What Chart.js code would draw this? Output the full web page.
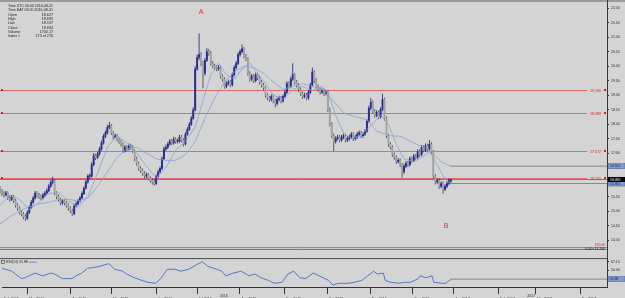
<!DOCTYPE html>
<html>
<head>
<meta charset="utf-8">
<script src="https://cdn.jsdelivr.net/npm/chart.js@4.4.1/dist/chart.umd.min.js"></script>
<style>
html,body{margin:0;padding:0;background:#d4d4d4;}
#wrap{position:relative;width:625px;height:298px;overflow:hidden;background:#d4d4d4;}
#strip{position:absolute;left:0;top:0;width:625px;height:2px;background:#9a9a9a;}
#axisline{position:absolute;left:607px;top:0;width:1px;height:288px;background:#3a3a3a;}
#main{position:absolute;left:0;top:0;}
#rsi{position:absolute;left:0;top:254px;}
</style>
</head>
<body>
<div id="wrap">
<div id="strip"></div>
<div id="axisline"></div>
<canvas id="main" width="625" height="254"></canvas>
<canvas id="rsi" width="625" height="44"></canvas>
</div>
<script>
// daily candles, bar index = position in array
const opens = [15.78,15.69,15.60,15.55,15.62,15.45,15.40,15.48,15.35,15.20,
 15.10,14.95,14.90,14.80,14.75,14.95,15.12,15.30,15.45,15.62,
 15.55,15.50,15.45,15.55,15.62,15.70,15.85,15.99,16.05,15.62,
 15.50,15.40,15.28,15.35,15.28,15.20,15.10,15.01,14.90,15.18,
 15.25,15.35,15.45,15.60,15.79,16.00,16.20,16.20,16.60,16.91,
 16.85,16.97,17.14,17.35,17.58,17.70,17.89,17.95,17.70,17.55,
 17.60,17.48,17.40,17.31,17.07,17.20,17.14,17.25,17.21,17.07,
 16.80,16.65,16.47,16.40,16.30,16.20,16.25,16.13,16.06,16.00,
 15.95,16.20,16.35,16.47,16.80,17.14,17.20,17.31,17.41,17.35,
 17.48,17.40,17.41,17.55,17.45,17.31,17.65,17.82,17.99,18.20,
 18.49,19.90,20.30,20.40,20.10,19.75,20.20,20.50,20.45,20.10,
 20.00,19.95,19.90,19.95,19.65,19.55,19.30,19.40,19.45,19.35,
 19.70,19.95,20.10,20.40,20.50,20.60,20.35,20.25,19.75,19.55,
 19.65,19.50,19.70,19.60,19.45,19.35,19.25,19.00,18.90,18.85,
 18.95,18.80,18.70,18.85,18.90,18.80,18.95,19.10,19.40,19.30,
 19.55,19.70,19.45,19.35,19.20,19.05,18.95,19.00,18.90,19.10,
 19.35,19.80,19.50,19.30,19.20,19.10,19.15,19.05,19.10,18.50,
 18.00,17.60,17.40,17.50,17.55,17.45,17.55,17.60,17.45,17.50,
 17.55,17.65,17.50,17.55,17.65,17.70,17.60,17.65,17.75,18.10,
 18.55,18.75,18.45,18.30,18.40,18.25,18.50,18.85,18.20,17.60,
 17.30,17.20,16.95,16.85,16.70,16.75,16.60,16.35,16.55,16.65,
 16.60,16.80,16.75,16.90,16.85,17.05,16.95,17.20,17.10,17.25,
 17.15,17.30,17.05,16.20,16.00,16.05,15.85,15.95,15.75,15.85,
 15.95,16.03];
const highs = [15.85,15.76,15.68,15.70,15.68,15.53,15.56,15.55,15.42,15.27,
 15.16,15.03,14.97,14.88,15.02,15.20,15.38,15.53,15.70,15.68,
 15.62,15.57,15.62,15.69,15.78,15.93,16.07,16.18,16.10,15.68,
 15.57,15.46,15.42,15.41,15.35,15.27,15.17,15.07,15.25,15.33,
 15.42,15.52,15.68,15.86,16.08,16.28,16.30,16.68,17.00,16.98,
 17.05,17.22,17.43,17.66,17.78,17.97,18.08,18.00,17.76,17.68,
 17.66,17.55,17.47,17.37,17.28,17.27,17.33,17.32,17.27,17.12,
 16.87,16.71,16.55,16.47,16.37,16.33,16.31,16.20,16.13,16.07,
 16.27,16.43,16.55,16.88,17.22,17.30,17.39,17.49,17.48,17.56,
 17.55,17.50,17.63,17.62,17.51,17.73,17.90,18.07,18.28,18.58,
 20.00,20.40,21.13,20.48,20.18,20.28,20.62,20.60,20.52,20.18,
 20.08,20.03,20.04,20.02,19.72,19.62,19.48,19.53,19.52,19.78,
 20.03,20.18,20.48,20.58,20.75,20.66,20.42,20.31,19.82,19.73,
 19.72,19.78,19.77,19.67,19.52,19.42,19.31,19.07,18.97,19.03,
 19.02,18.87,18.93,18.98,18.97,19.03,19.18,19.48,19.47,19.63,
 20.10,19.76,19.52,19.42,19.27,19.12,19.08,19.07,19.18,19.43,
 19.95,19.86,19.57,19.37,19.27,19.23,19.22,19.18,19.16,18.56,
 18.06,17.67,17.58,17.63,17.62,17.63,17.68,17.67,17.58,17.63,
 17.73,17.72,17.63,17.73,17.78,17.77,17.73,17.83,18.18,18.63,
 18.90,18.81,18.52,18.48,18.47,18.58,19.05,18.91,18.26,17.67,
 17.37,17.27,17.02,16.92,16.83,16.82,16.66,16.63,16.73,16.72,
 16.88,16.87,16.98,16.97,17.13,17.12,17.28,17.27,17.33,17.32,
 17.45,17.37,17.11,16.27,16.13,16.12,16.03,16.02,15.93,16.03,
 16.13,16.10];
const lows = [15.60,15.52,15.47,15.50,15.38,15.32,15.35,15.28,15.12,15.02,
 14.88,14.82,14.72,14.66,14.70,14.90,15.07,15.25,15.40,15.47,
 15.42,15.37,15.40,15.49,15.57,15.65,15.80,15.92,15.55,15.42,
 15.33,15.20,15.22,15.20,15.12,15.02,14.93,14.83,14.86,15.12,
 15.20,15.30,15.40,15.55,15.74,15.95,16.10,16.15,16.55,16.76,
 16.80,16.92,17.08,17.30,17.52,17.64,17.82,17.62,17.47,17.50,
 17.40,17.32,17.23,17.00,17.02,17.06,17.09,17.13,17.00,16.72,
 16.57,16.40,16.32,16.22,16.12,16.14,16.06,15.98,15.92,15.87,
 15.90,16.15,16.30,16.42,16.75,17.08,17.14,17.25,17.27,17.30,
 17.32,17.33,17.36,17.37,17.23,17.26,17.60,17.76,17.94,18.15,
 18.44,19.84,20.20,20.00,19.24,19.68,20.14,20.36,20.02,19.92,
 19.86,19.82,19.84,19.57,19.47,19.22,19.24,19.33,19.27,19.30,
 19.64,19.88,20.04,20.33,20.44,20.27,20.17,19.67,19.47,19.48,
 19.42,19.44,19.52,19.37,19.27,19.17,18.92,18.82,18.77,18.78,
 18.72,18.58,18.64,18.78,18.72,18.74,18.89,19.04,19.22,19.24,
 19.49,19.37,19.27,19.12,18.97,18.87,18.89,18.82,18.84,19.04,
 19.30,19.42,19.22,19.12,19.02,19.04,18.97,18.99,18.42,17.92,
 17.52,17.07,17.33,17.43,17.37,17.39,17.48,17.37,17.38,17.43,
 17.49,17.42,17.43,17.49,17.58,17.52,17.53,17.59,17.70,18.04,
 18.48,18.37,18.22,18.24,18.17,18.19,18.44,18.12,17.52,17.22,
 17.12,16.87,16.77,16.62,16.64,16.52,16.15,16.29,16.48,16.52,
 16.54,16.67,16.69,16.77,16.79,16.87,16.89,17.02,17.04,17.07,
 17.09,16.97,16.12,15.92,15.94,15.77,15.79,15.60,15.69,15.79,
 15.89,15.94];
const closes = [15.69,15.60,15.55,15.62,15.45,15.40,15.48,15.35,15.20,15.10,
 14.95,14.90,14.80,14.75,14.95,15.12,15.30,15.45,15.62,15.55,
 15.50,15.45,15.55,15.62,15.70,15.85,15.99,16.05,15.62,15.50,
 15.40,15.28,15.35,15.28,15.20,15.10,15.01,14.90,15.18,15.25,
 15.35,15.45,15.60,15.79,16.00,16.20,16.20,16.60,16.91,16.85,
 16.97,17.14,17.35,17.58,17.70,17.89,17.95,17.70,17.55,17.60,
 17.48,17.40,17.31,17.07,17.20,17.14,17.25,17.21,17.07,16.80,
 16.65,16.47,16.40,16.30,16.20,16.25,16.13,16.06,16.00,15.95,
 16.20,16.35,16.47,16.80,17.14,17.20,17.31,17.41,17.35,17.48,
 17.40,17.41,17.55,17.45,17.31,17.65,17.82,17.99,18.20,18.49,
 19.90,20.30,20.40,20.10,19.75,20.20,20.50,20.45,20.10,20.00,
 19.95,19.90,19.95,19.65,19.55,19.30,19.40,19.45,19.35,19.70,
 19.95,20.10,20.40,20.50,20.60,20.35,20.25,19.75,19.55,19.65,
 19.50,19.70,19.60,19.45,19.35,19.25,19.00,18.90,18.85,18.95,
 18.80,18.70,18.85,18.90,18.80,18.95,19.10,19.40,19.30,19.55,
 19.70,19.45,19.35,19.20,19.05,18.95,19.00,18.90,19.10,19.35,
 19.80,19.50,19.30,19.20,19.10,19.15,19.05,19.10,18.50,18.00,
 17.60,17.40,17.50,17.55,17.45,17.55,17.60,17.45,17.50,17.55,
 17.65,17.50,17.55,17.65,17.70,17.60,17.65,17.75,18.10,18.55,
 18.75,18.45,18.30,18.40,18.25,18.50,18.85,18.20,17.60,17.30,
 17.20,16.95,16.85,16.70,16.75,16.60,16.35,16.55,16.65,16.60,
 16.80,16.75,16.90,16.85,17.05,16.95,17.20,17.10,17.25,17.15,
 17.30,17.05,16.20,16.00,16.05,15.85,15.95,15.75,15.85,15.95,
 16.05,16.09];

// moving averages (bar index, value)
const slowMaIdx = [0,5,10,15,20,25,30,35,40,45,50,55,60,65,70,75,80,85,90,95,100,105,110,115,120,125,130,135,140,145,150,155,160,165,169,176,182,188,193,200,205,212,219,226,231];
const slowMa = [14.55,14.80,15.00,15.15,15.25,15.30,15.40,15.40,15.35,15.45,15.85,16.35,16.85,17.15,17.20,17.00,16.80,16.75,16.75,16.95,17.40,18.20,18.90,19.45,19.80,20.00,19.95,19.75,19.45,19.20,19.30,19.40,19.30,19.20,18.93,18.39,18.25,18.16,17.75,17.60,17.58,17.35,17.14,16.70,16.55];
const fastMaIdx = [0,5,10,15,20,25,30,35,40,45,50,55,60,65,70,75,80,85,90,95,100,104,108,112,116,120,124,128,132,136,140,145,150,155,160,165,168,172,176,180,185,190,195,199,203,207,212,216,220,224,228,231];
const fastMa = [15.20,15.55,15.40,15.05,15.30,15.60,15.65,15.35,15.15,15.50,16.30,17.20,17.60,17.35,17.00,16.55,16.15,16.50,17.10,17.40,17.90,18.80,19.70,20.10,19.70,19.55,19.90,20.10,19.75,19.40,19.00,18.85,19.20,19.30,19.15,19.30,19.10,18.30,17.70,17.50,17.60,17.95,18.30,18.00,17.30,16.80,16.70,16.85,17.05,16.60,16.10,15.95];

// RSI(14) sub window
const rsiIdx = [0,5,10,12,17,21,25,27,31,36,38,41,44,50,53,55,58,62,64,68,72,75,79,82,85,89,92,96,100,103,106,109,113,115,119,123,127,130,133,137,140,144,147,150,153,156,160,163,168,170,173,178,181,185,188,191,193,196,197,200,204,207,210,214,215,218,221,222,226,228,231];
const rsiVals = [53.8,48.1,32.9,34.8,44.3,38.6,44.3,42.4,32.9,32.9,38.6,44.3,53.8,57.6,61.4,63.3,51.9,48.1,42.4,34.8,29.1,25.3,23.4,34.8,51.9,51.9,48.1,51.9,61.4,67.1,57.6,53.8,48.1,38.6,44.3,48.1,38.6,42.4,34.8,29.1,23.4,25.3,42.4,48.1,34.8,32.9,44.3,38.6,29.1,19.6,23.4,23.4,25.3,29.1,38.6,48.1,42.4,44.3,29.1,25.3,23.4,25.3,25.3,32.9,38.6,34.8,38.6,25.3,23.4,23.4,31.88];

const priceTicks = [14.0,14.5,15.0,15.5,16.0,16.5,17.0,17.5,18.0,18.5,19.0,19.5,20.0,20.5,21.0,21.5,22.0];
const rsiTicks = [50.0, 67.14];
const monthIdx = [0,13,35,56,79,100,122,145,167,189,211,232,255,274,297];
const monthLabels = ['Feb 2016','Mar 2016','Apr 2016','May 2016','Jun 2016','Jul 2016','Aug 2016','Sep 2016','Oct 2016','Nov 2016','Dec 2016','Jan 2017','Feb 2017','Mar 2017','Apr 2017'];
const yearIdx = [114, 272];
const yearLabels = ['2016', '2017'];

const levels = [19.190, 18.388, 17.072, 16.155];
const bottomLevel = 13.760;
const markText = ['A', 'B'];
const markIdx = [103, 228.5];
const markPrice = [21.87, 14.47];
const infoLabels = ['Time UTC 00:00 2016-08-31','Time EAT 03:00 2016-08-31','Open','High','Low','Close','Volume','Index #'];
const infoValues = ['','','18.627','18.695','18.537','18.694','1700.17','173 of 276'];

const priceMin = 13.66, priceMax = 22.14;
const rsiMin = 15.8, rsiMax = 74.7;
const xMax = 311;
const last = closes.length - 1;

const FONT = '"Liberation Sans", Arial, sans-serif';
const BULL = '#272c94', BEAR = '#a3a3a3', WICK = '#3a3a3a';
const MA_COLOR = '#89a2d2', RED = '#e0302f', LEVEL = '#e36a6a';

Chart.defaults.font.family = FONT;
Chart.defaults.color = '#2a2a2a';

function axisBox(ctx, left, py, text, bg, fg) {
  ctx.fillStyle = bg;
  ctx.fillRect(left + 1, py - 2.5, 17, 5);
  ctx.strokeStyle = '#3e5c96';
  ctx.lineWidth = 0.5;
  ctx.strokeRect(left + 1, py - 2.5, 17, 5);
  ctx.fillStyle = fg;
  ctx.font = '3.4px ' + FONT;
  ctx.textAlign = 'left';
  ctx.textBaseline = 'middle';
  ctx.fillText(text, left + 3, py + 0.2);
}

const mainDecor = {
  id: 'mainDecor',
  beforeDatasetsDraw(chart) {
    const {ctx, chartArea: a, scales: {y}} = chart;
    ctx.save();
    ctx.lineWidth = 1;
    levels.forEach((v, k) => {
      const py = Math.round(y.getPixelForValue(v)) + 0.5;
      if (k === levels.length - 1) {
        ctx.strokeStyle = '#6f8186';
        ctx.beginPath(); ctx.moveTo(a.left, py + 1); ctx.lineTo(a.right, py + 1); ctx.stroke();
      }
      ctx.strokeStyle = LEVEL;
      ctx.beginPath(); ctx.moveTo(a.left, py); ctx.lineTo(a.right - 20, py); ctx.stroke();
      ctx.fillStyle = '#e21b1b';
      ctx.fillRect(a.left + 1, py - 1.5, 2, 2);
      ctx.fillRect(a.right - 3, py - 1.5, 2, 2);
      ctx.font = '3.6px ' + FONT;
      ctx.textAlign = 'right';
      ctx.textBaseline = 'middle';
      ctx.fillText(v.toFixed(3), a.right - 6, py);
    });
    const pb = Math.round(y.getPixelForValue(bottomLevel)) + 0.5;
    ctx.strokeStyle = LEVEL;
    ctx.beginPath(); ctx.moveTo(a.left, pb); ctx.lineTo(a.right, pb); ctx.stroke();
    ctx.strokeStyle = '#6e6e6e';
    ctx.beginPath(); ctx.moveTo(a.left, a.bottom - 0.5); ctx.lineTo(a.right, a.bottom - 0.5); ctx.stroke();
    ctx.font = '3.4px ' + FONT;
    ctx.textAlign = 'right';
    ctx.fillStyle = '#e21b1b';
    ctx.fillText('100.00', a.right - 2, pb - 2.5);
    ctx.fillStyle = '#222';
    ctx.fillText('0.00 \u25aa ' + bottomLevel.toFixed(3), a.right - 2, pb + 1.8);
    ctx.restore();
  },
  afterDraw(chart) {
    const {ctx, chartArea: a, scales: {x, y}} = chart;
    ctx.save();
    // info window
    ctx.font = '3.7px ' + FONT;
    ctx.textBaseline = 'middle';
    ctx.fillStyle = '#1e1e1e';
    infoLabels.forEach((t, k) => {
      const ty = 6 + k * 4.3;
      ctx.textAlign = 'left';
      ctx.fillText(t, 8, ty, infoValues[k] ? 30 : 45);
      if (infoValues[k]) {
        ctx.textAlign = 'right';
        ctx.fillText(infoValues[k], 53, ty);
      }
    });
    // wave marks
    ctx.font = '7px ' + FONT;
    ctx.fillStyle = RED;
    ctx.textAlign = 'center';
    markText.forEach((t, k) => ctx.fillText(t, x.getPixelForValue(markIdx[k]), y.getPixelForValue(markPrice[k])));
    // price axis boxes
    axisBox(ctx, a.right, y.getPixelForValue(slowMa[slowMa.length - 1]), '16.552', '#7f9ad0', '#10203a');
    axisBox(ctx, a.right, y.getPixelForValue(fastMa[fastMa.length - 1]), '15.951', '#7f9ad0', '#10203a');
    const pc = y.getPixelForValue(closes[last]);
    ctx.fillStyle = '#050505';
    ctx.fillRect(a.right + 1, pc - 2.5, 17, 5);
    ctx.fillStyle = '#fff';
    ctx.font = '3.4px ' + FONT;
    ctx.textAlign = 'left';
    ctx.fillText(closes[last].toFixed(3), a.right + 3, pc + 0.2);
    ctx.restore();
  }
};

const rsiDecor = {
  id: 'rsiDecor',
  afterDraw(chart) {
    const {ctx, chartArea: a, scales: {x, y}} = chart;
    ctx.save();
    ctx.lineWidth = 1;
    ctx.strokeStyle = '#4a4a4a';
    ctx.beginPath(); ctx.moveTo(0, a.top + 0.5); ctx.lineTo(a.right, a.top + 0.5); ctx.stroke();
    // month separators in the date bar
    ctx.strokeStyle = '#333';
    monthIdx.forEach((m, k) => {
      if (k === 0) return;
      const px = Math.round(x.getPixelForValue(m)) + 0.5;
      ctx.beginPath(); ctx.moveTo(px, a.bottom); ctx.lineTo(px, a.bottom + 7); ctx.stroke();
    });
    ctx.font = '3.5px ' + FONT;
    ctx.fillStyle = '#2a2a2a';
    ctx.textAlign = 'center';
    ctx.textBaseline = 'middle';
    yearLabels.forEach((t, k) => ctx.fillText(t, x.getPixelForValue(yearIdx[k]), chart.height - 1.5));
    // indicator caption
    ctx.strokeStyle = '#333';
    ctx.lineWidth = 0.6;
    ctx.strokeRect(1.5, a.top + 2.5, 3, 3);
    ctx.textAlign = 'left';
    ctx.fillStyle = '#1e1e1e';
    ctx.fillText('RSI(14) ' + rsiVals[rsiVals.length - 1].toFixed(2), 6, a.top + 4);
    ctx.strokeStyle = '#5577c4';
    ctx.lineWidth = 0.8;
    ctx.beginPath(); ctx.moveTo(29, a.top + 4); ctx.lineTo(37, a.top + 4); ctx.stroke();
    axisBox(ctx, a.right, y.getPixelForValue(rsiVals[rsiVals.length - 1]), rsiVals[rsiVals.length - 1].toFixed(2), '#7f9ad0', '#10203a');
    ctx.restore();
  }
};

const wickData = closes.map((c, i) => ({x: i, y: [lows[i], highs[i]]}));
const bodyData = closes.map((c, i) => ({x: i, y: [opens[i], c]}));
const isBull = i => closes[i] >= opens[i];

new Chart(document.getElementById('main'), {
  type: 'bar',
  data: {
    datasets: [
      {type: 'line', data: slowMaIdx.map((v, k) => ({x: v, y: slowMa[k]})), borderColor: MA_COLOR, borderWidth: 0.8, pointRadius: 0, order: 1},
      {type: 'line', data: fastMaIdx.map((v, k) => ({x: v, y: fastMa[k]})), borderColor: MA_COLOR, borderWidth: 0.8, pointRadius: 0, order: 1},
      {type: 'line', data: [{x: last, y: slowMa[slowMa.length - 1]}, {x: xMax, y: slowMa[slowMa.length - 1]}], borderColor: '#8a8a8a', borderWidth: 1, pointRadius: 0, order: 1},
      {type: 'line', data: [{x: last, y: fastMa[fastMa.length - 1]}, {x: xMax, y: fastMa[fastMa.length - 1]}], borderColor: '#8a8a8a', borderWidth: 1, pointRadius: 0, order: 1},
      {data: bodyData, backgroundColor: ctx => isBull(ctx.dataIndex) ? BULL : BEAR, barThickness: 1.3, minBarLength: 1, grouped: false, order: 2},
      {data: wickData, backgroundColor: ctx => isBull(ctx.dataIndex) ? '#1d2070' : WICK, barThickness: 0.8, grouped: false, inflateAmount: 0, order: 3}
    ]
  },
  options: {
    responsive: false,
    animation: false,
    layout: {padding: {top: 2, bottom: 1, left: 0, right: 0}},
    plugins: {legend: {display: false}, tooltip: {enabled: false}},
    scales: {
      x: {type: 'linear', min: 0, max: xMax, offset: false, display: false},
      y: {
        position: 'right', min: priceMin, max: priceMax,
        afterFit: s => { s.width = 18; },
        afterBuildTicks: s => { s.ticks = priceTicks.map(v => ({value: v})); },
        grid: {drawOnChartArea: false, tickLength: 2, color: '#333'},
        border: {color: '#333'},
        ticks: {font: {size: 3.5}, padding: 2, color: '#2a2a2a', callback: v => v.toFixed(2)}
      }
    }
  },
  plugins: [mainDecor]
});

new Chart(document.getElementById('rsi'), {
  type: 'line',
  data: {
    datasets: [
      {data: rsiIdx.map((v, k) => ({x: v, y: rsiVals[k]})), borderColor: '#5577c4', borderWidth: 1, pointRadius: 0},
      {data: [{x: last, y: rsiVals[rsiVals.length - 1]}, {x: xMax, y: rsiVals[rsiVals.length - 1]}], borderColor: '#8a8a8a', borderWidth: 1, pointRadius: 0}
    ]
  },
  options: {
    responsive: false,
    animation: false,
    layout: {padding: {top: 2, bottom: 0, left: 0, right: 0}},
    plugins: {legend: {display: false}, tooltip: {enabled: false}},
    scales: {
      x: {
        type: 'linear', min: 0, max: xMax, offset: false,
        afterFit: s => { s.height = 11; },
        afterBuildTicks: s => { s.ticks = monthIdx.map(v => ({value: v})); },
        grid: {display: false},
        border: {display: true, color: '#333'},
        ticks: {font: {size: 3.5}, padding: 2, align: 'start', labelOffset: 2, autoSkip: false, maxRotation: 0, minRotation: 0, color: '#2a2a2a', callback: (v, i) => monthLabels[i]}
      },
      y: {
        position: 'right', min: rsiMin, max: rsiMax,
        afterFit: s => { s.width = 18; },
        afterBuildTicks: s => { s.ticks = rsiTicks.map(v => ({value: v})); },
        grid: {drawOnChartArea: false, tickLength: 2, color: '#333'},
        border: {color: '#333'},
        ticks: {font: {size: 3.5}, padding: 2, color: '#2a2a2a', callback: v => v.toFixed(2)}
      }
    }
  },
  plugins: [rsiDecor]
});
</script>
</body>
</html>
